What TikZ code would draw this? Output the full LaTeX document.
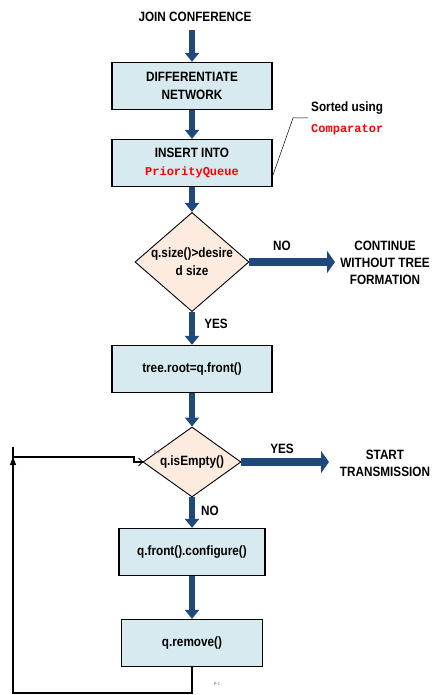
\documentclass[tikz,border=0pt]{standalone}
\usepackage{fontspec}
\setmainfont[FakeStretch=0.87]{Liberation Sans}
\newfontfamily\monof{Liberation Mono}
\usetikzlibrary{arrows.meta,shapes.geometric}
\definecolor{boxblue}{RGB}{214,234,240}
\definecolor{diapeach}{RGB}{252,235,222}
\definecolor{arrblue}{RGB}{31,73,125}
\definecolor{codered}{RGB}{255,0,0}
\tikzset{
  procbox/.style={draw=black,line width=1.3pt,fill=boxblue,minimum width=160pt,minimum height=47pt,inner sep=1pt,align=center,font=\bfseries\fontsize{13.5}{18}\selectfont},
  decide/.style={draw=black,line width=0.9pt,fill=diapeach,diamond,aspect=1.15,inner sep=0pt,align=center,font=\bfseries\fontsize{13.5}{18}\selectfont},
  lbl/.style={align=center,font=\bfseries\fontsize{13.5}{17}\selectfont,inner sep=0pt},
  vflow/.style={draw=arrblue,line width=6pt,-{Triangle[width=14pt,length=9pt]}},
  hflow/.style={draw=arrblue,line width=8pt,-{Triangle[width=22pt,length=8pt]}},
  tiny/.style={font=\fontsize{4.5}{5}\selectfont,text=black!60,inner sep=0pt},
  code/.style={text=codered,font=\monof\bfseries\fontsize{12}{14}\selectfont}
}
\begin{document}
\begin{tikzpicture}[x=1pt,y=-1pt]
\useasboundingbox[fill=white] (0,0) rectangle (432,695);
\node[lbl] (join) at (195,17) {JOIN CONFERENCE};
\node[procbox] (diff) at (192,86) {DIFFERENTIATE\\NETWORK};
\node[procbox] (ins) at (192,163) {INSERT INTO\\{\monof\bfseries\fontsize{12}{14}\selectfont\color{codered}PriorityQueue}};
\node[decide,minimum width=111pt,minimum height=96pt] (d1) at (192,262) {q.size()>desire\\d size};
\node[lbl] (cont) at (385,263) {CONTINUE\\WITHOUT TREE\\FORMATION};
\node[procbox] (root) at (192,369) {tree.root=q.front()};
\node[decide,minimum width=98pt,minimum height=70pt] (d2) at (192,462) {q.isEmpty()};
\node[lbl] (start) at (385,463) {START\\TRANSMISSION};
\node[procbox,minimum width=146pt] (conf) at (192,552) {q.front().configure()};
\node[procbox,minimum width=141pt] (rem) at (192,643) {q.remove()};
\node[lbl] (no1) at (282,246) {NO};
\node[lbl] (yes1) at (216,324) {YES};
\node[lbl] (yes2) at (282,449) {YES};
\node[lbl] (no2) at (210,511) {NO};
\node[lbl,anchor=west] (sorted) at (311,108) {Sorted using};
\node[code,anchor=west,inner sep=0pt] (comp) at (311,130) {Comparator};
\node[tiny] (p2) at (157,452) {P-2};
\node[tiny] (p1) at (217,684) {P-1};
\coordinate (joinb) at (192,30);
\coordinate (noend) at (335,262);
\coordinate (yesend) at (329,462);
\coordinate (c1) at (293,118);
\coordinate (c2) at (308,118);
\coordinate (lb) at (192,693);
\coordinate (ll) at (13,693);
\coordinate (lt) at (13,447);
\coordinate (la) at (13,457);
\coordinate (lj1) at (134,457);
\coordinate (lj2) at (134,462);
% flow arrows
\draw[vflow] (joinb) -- (diff.north);
\draw[vflow] (diff.south) -- (ins.north);
\draw[vflow] (ins.south) -- (d1.north);
\draw[hflow] (d1.east) -- (noend);
\draw[vflow] (d1.south) -- (root.north);
\draw[vflow] (root.south) -- (d2.north);
\draw[hflow] (d2.east) -- (yesend);
\draw[vflow] (d2.south) -- (conf.north);
\draw[vflow] (conf.south) -- (rem.north);
% annotation
\draw[line width=0.5pt] (ins.east |- 0,176) -- (c1) -- (c2);
% loop back
\draw[line width=1.2pt] (rem.south) -- (lb) -- (ll) -- (lt);
\draw[line width=1.2pt,-{Triangle[width=6pt,length=8pt]}] (13,475) -- (13,457);
\draw[line width=1.2pt] (la) -- (lj1) -- (lj2) -- (d2.west);
\draw[line width=0.8pt] (d2.west) ++(-4,-4) -- (d2.west) -- ++(-4,4);
\end{tikzpicture}
\end{document}
